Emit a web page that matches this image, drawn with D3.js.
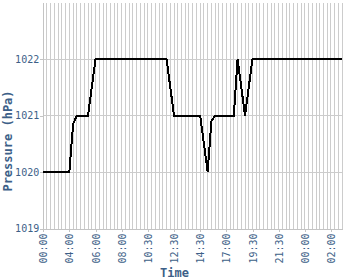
<!DOCTYPE html>
<html>
<head>
<meta charset="utf-8">
<script src="https://cdn.jsdelivr.net/npm/d3@7"></script>
<style>
  html, body { margin:0; padding:0; background:#fff; }
  svg { display:block; }
  text { font-family:"DejaVu Sans Mono", monospace; fill:#3d5f88; }
</style>
</head>
<body>
<svg id="chart" width="350" height="280"></svg>
<script>
// ===== data =====
const pressure = [
  1020, 1020, 1020, 1020, 1020, 1020, 1020, 1020,
  1020.85,
  1021, 1021, 1021, 1021,
  1021.5,
  1022, 1022, 1022, 1022, 1022, 1022, 1022, 1022, 1022, 1022,
  1022, 1022, 1022, 1022, 1022, 1022, 1022, 1022, 1022, 1022,
  1021.5,
  1021, 1021, 1021, 1021, 1021, 1021, 1021, 1021,
  1020.5, 1020, 1020.9,
  1021, 1021, 1021, 1021, 1021, 1021,
  1022, 1021.5, 1021, 1021.5,
  1022, 1022, 1022, 1022, 1022, 1022, 1022, 1022, 1022, 1022,
  1022, 1022, 1022, 1022, 1022, 1022, 1022, 1022, 1022, 1022,
  1022, 1022, 1022, 1022, 1022
];
const tickIdx    = [0, 7, 14, 21, 28, 35, 42, 49, 56, 63, 70, 77];
const tickLabels = ["00:00","04:00","06:00","08:00","10:30","12:30","14:30","17:00","19:30","21:30","00:00","02:00"];
const yTicks     = [1019, 1020, 1021, 1022];

// ===== chart =====
const svg = d3.select("#chart");
const M = {top:2.5, bottom:228.5, left:43.2, right:342.2};

const x = d3.scalePoint()
  .domain(d3.range(pressure.length))
  .range([M.left, M.right]);

const y = d3.scaleLinear()
  .domain([1019, 1023])
  .range([M.bottom, M.top]);

const grid = svg.append("g").attr("shape-rendering","crispEdges");

// vertical grid, one per record
grid.selectAll("line.v")
  .data(x.domain())
  .join("line")
  .attr("x1", d => x(d)).attr("x2", d => x(d))
  .attr("y1", M.top).attr("y2", M.bottom)
  .attr("stroke","#cccccc");

// horizontal grid
grid.selectAll("line.h")
  .data(yTicks.slice(1))
  .join("line")
  .attr("x1", M.left).attr("x2", M.right)
  .attr("y1", d => y(d)).attr("y2", d => y(d))
  .attr("stroke","#cccccc");

// y axis
const gy = svg.append("g")
  .attr("transform",`translate(${M.left},0)`)
  .call(d3.axisLeft(y).tickValues(yTicks).tickFormat(d3.format("d"))
    .tickSize(3).tickPadding(1).tickSizeOuter(0));
gy.select(".domain").attr("stroke","#c4c4c4").attr("shape-rendering","crispEdges");
gy.selectAll(".tick line").attr("stroke","#c4c4c4").attr("shape-rendering","crispEdges");
gy.selectAll("text").attr("font-size","10px").attr("fill","#3d5f88")
  .attr("font-family","DejaVu Sans Mono, monospace");

// x axis
const gx = svg.append("g")
  .attr("transform",`translate(0,${M.bottom})`)
  .call(d3.axisBottom(x).tickValues(tickIdx).tickSize(3).tickSizeOuter(0)
    .tickFormat((d,i) => tickLabels[i]));
gx.select(".domain").attr("stroke","#c4c4c4").attr("shape-rendering","crispEdges");
gx.selectAll(".tick line").attr("stroke","#c4c4c4").attr("shape-rendering","crispEdges");
gx.selectAll("text")
  .attr("font-size","10px").attr("fill","#3d5f88")
  .attr("font-family","DejaVu Sans Mono, monospace")
  .attr("transform","rotate(-90)")
  .attr("text-anchor","end")
  .attr("x",-5).attr("y",0).attr("dy","0.35em");

// data line
const line = d3.line()
  .x((d,i) => x(i))
  .y(d => y(d));

svg.append("path")
  .datum(pressure)
  .attr("d", line)
  .attr("fill","none")
  .attr("stroke","#000")
  .attr("stroke-width",2)
  .attr("shape-rendering","crispEdges");

// labels
svg.append("text")
  .attr("transform","translate(12,141) rotate(-90)")
  .attr("text-anchor","middle")
  .attr("font-size","12px").attr("font-weight","bold")
  .text("Pressure (hPa)");

svg.append("text")
  .attr("x",174.5).attr("y",277)
  .attr("text-anchor","middle")
  .attr("font-size","12px").attr("font-weight","bold")
  .text("Time");
</script>
</body>
</html>
